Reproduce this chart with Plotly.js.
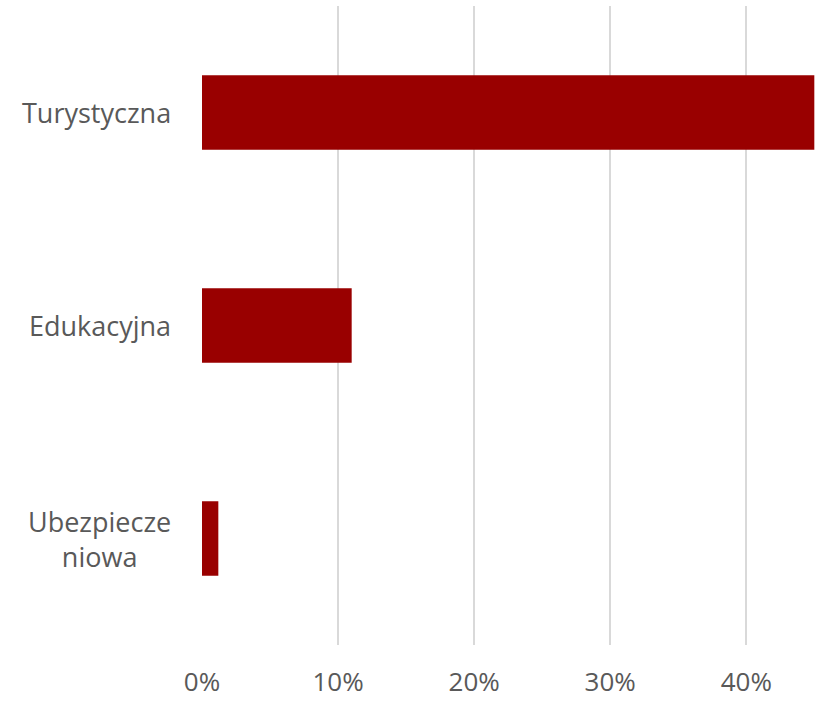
<!DOCTYPE html>
<html><head><meta charset="utf-8">
<script src="https://cdn.plot.ly/plotly-3.0.1.min.js"></script>
<style>html,body{margin:0;padding:0;background:#fff}#c{width:817px;height:701px}</style>
</head><body><div id="c"></div>
<script>
const categories = ["Turystyczna", "Edukacyjna", "Ubezpiecze<br>niowa"];
const values = [0.45, 0.11, 0.012];
const tickVals = [0, 0.1, 0.2, 0.3, 0.4];
const tickText = ["0%", "10%", "20%", "30%", "40%"];

const font = {family: "'Open Sans', sans-serif", size: 27, color: "#595959"};
const tickFont = {family: "'Open Sans', sans-serif", size: 26, color: "#595959"};

const trace = {
  type: "bar", orientation: "h",
  y: categories, x: values,
  marker: {color: "#990000", line: {width: 0}},
  hoverinfo: "none"
};

const annotations = categories.map(c => ({
  xref: "paper", yref: "y", x: -0.048, y: c, text: c,
  xanchor: "right", yanchor: "middle", align: "center",
  showarrow: false, font: font
}));

const layout = {
  width: 817, height: 701,
  margin: {l: 202, r: 2, t: 6, b: 56},
  paper_bgcolor: "#fff", plot_bgcolor: "#fff",
  bargap: 0.65,
  showlegend: false,
  xaxis: {
    range: [0, 0.4505], tickvals: tickVals, ticktext: tickText,
    showgrid: true, gridcolor: "#d9d9d9", gridwidth: 2,
    zeroline: false, showline: false,
    ticks: "outside", ticklen: 14, tickcolor: "rgba(0,0,0,0)",
    tickfont: tickFont, fixedrange: true
  },
  yaxis: {
    autorange: "reversed", showticklabels: false,
    showgrid: false, zeroline: false, showline: false, fixedrange: true
  },
  annotations: annotations
};

Plotly.newPlot("c", [trace], layout, {displayModeBar: false, staticPlot: true});
</script></body></html>
